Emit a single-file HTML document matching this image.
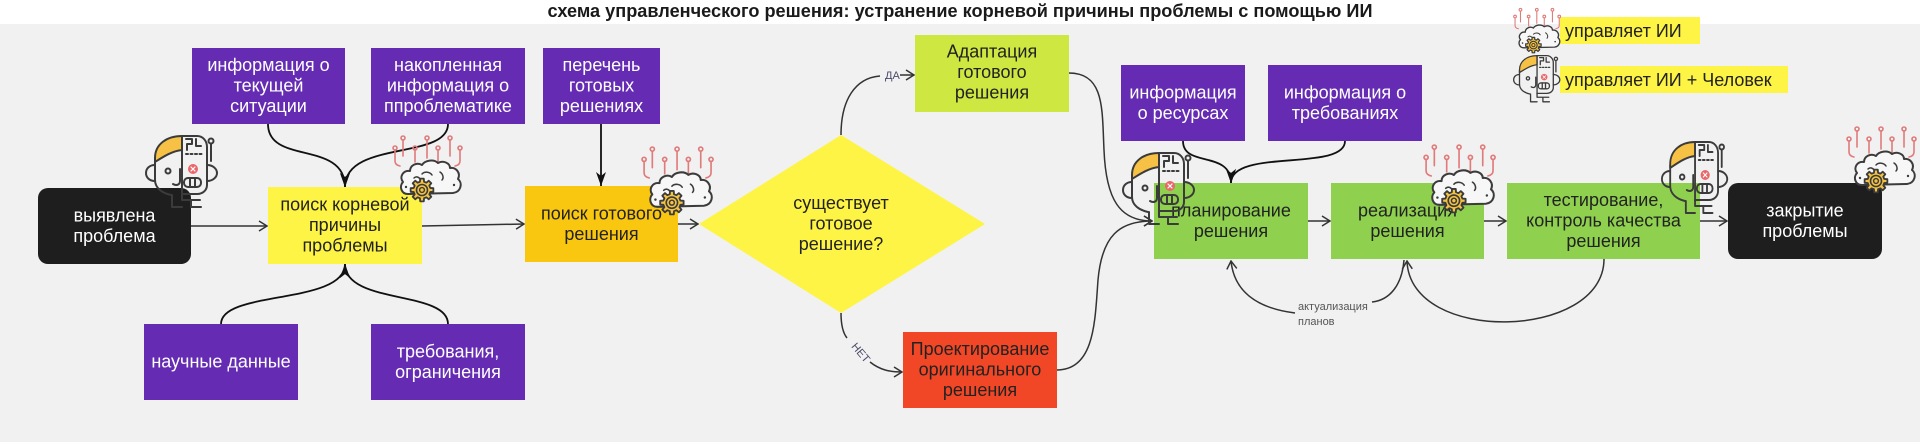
<!DOCTYPE html>
<html><head><meta charset="utf-8">
<style>
html,body{margin:0;padding:0;background:#fff;}
body{width:1920px;height:442px;overflow:hidden;}
svg{display:block;}
text{font-family:"Liberation Sans","Noto Sans CJK SC",sans-serif;}
.t{font-size:18px;text-anchor:middle;fill:#222;}
.w{fill:#fff;}
.ln{fill:none;stroke:#333;stroke-width:1.5;}
.lb{fill:none;stroke:#111;stroke-width:1.8;}
</style></head>
<body>
<svg width="1920" height="442" viewBox="0 0 1920 442" xmlns="http://www.w3.org/2000/svg">
<defs>
  <marker id="oa" viewBox="0 0 10 12" refX="9" refY="6" markerWidth="10" markerHeight="12" markerUnits="userSpaceOnUse" orient="auto">
    <path d="M1,1 L9,6 L1,11" fill="none" stroke="#333" stroke-width="1.5"/>
  </marker>
  <marker id="fa" viewBox="0 0 14 10" refX="14" refY="5" markerWidth="14" markerHeight="10" markerUnits="userSpaceOnUse" orient="auto">
    <path d="M0,0 L14,5 L0,10 L4,5 Z" fill="#111"/>
  </marker>
  <g id="hum" fill="none" stroke="#3b3b3b" stroke-width="2" stroke-linecap="round" stroke-linejoin="round">
    <path d="M37,1 C22,1 10,9 10,23 L10,27 C18,22 27,16 37,15 Z" fill="#f6c144"/>
    <path d="M10,24 L10,45 C10,53 17,58 26,60"/>
    <path d="M10,30 C4,30 1,34 1,38 C1,42 4,46 10,46"/>
    <circle cx="23" cy="36" r="2.5"/>
    <path d="M35,34 L35,46 C35,50 31,51 28,49"/>
    <path d="M37,1 L37,60"/>
    <path d="M37,1 L52,1 C58,1 62,6 62,12 L62,50 C62,55 58,59 52,59 L37,59"/>
    <path d="M41,4 H47 V9 H42 V15 M51,4 V11 H56"/>
    <path d="M41,19 H58" stroke-dasharray="2 2.5"/>
    <circle cx="48" cy="34" r="5" fill="#e8676b" stroke="none"/>
    <path d="M46,32 L50,36 M50,32 L46,36" stroke="#fff" stroke-width="1.2"/>
    <rect x="39" y="43" width="17" height="9" rx="4"/>
    <path d="M45,43 V52 M50,43 V52"/>
    <path d="M62,30 C68,30 72,34 72,38 C72,42 68,46 62,46"/>
    <path d="M66,26 V9"/>
    <circle cx="66" cy="6" r="2.5"/>
    <path d="M27,60 V72 H37 M37,59 V65 H55 M46,65 V72 H56"/>
  </g>
  <g id="brn">
    <g fill="none" stroke="#e07b7b" stroke-width="1.6" stroke-linecap="round">
      <circle cx="11" cy="4" r="2"/><circle cx="35" cy="4" r="2"/><circle cx="58" cy="4" r="2"/>
      <circle cx="3" cy="14" r="2"/><circle cx="23" cy="14" r="2"/><circle cx="46" cy="14" r="2"/><circle cx="68" cy="14" r="2"/>
      <path d="M11,6 V22 M35,6 V24 M58,6 V22 M3,16 V27 Q3,31 8,32 M23,16 V28 M46,16 V28 M68,16 V27 Q68,31 63,32"/>
    </g>
    <path d="M16,60 C9,60 7,52 11,48 C7,43 11,36 18,37 C18,31 25,28 30,31 C33,26 42,25 46,29 C51,26 58,29 58,34 C64,33 69,39 66,45 C71,49 69,58 61,59 Z" fill="#f7f7f7" stroke="#3b3b3b" stroke-width="2" stroke-linejoin="round"/>
    <path d="M30,40 C33,37 38,38 40,41 M48,38 C51,40 52,44 50,46 M22,44 C24,42 27,43 28,45" fill="none" stroke="#3b3b3b" stroke-width="1.5" stroke-linecap="round"/>
    <circle cx="14" cy="53" r="1.2" fill="#3b3b3b"/><circle cx="62" cy="51" r="1.2" fill="#3b3b3b"/>
    <g transform="translate(30,56)">
      <polygon points="8.25,-2.06 11.36,-1.8 11.36,1.8 8.25,2.06 7.29,4.38 9.3,6.76 6.76,9.3 4.38,7.29 2.06,8.25 1.8,11.36 -1.8,11.36 -2.06,8.25 -4.38,7.29 -6.76,9.3 -9.3,6.76 -7.29,4.38 -8.25,2.06 -11.36,1.8 -11.36,-1.8 -8.25,-2.06 -7.29,-4.38 -9.3,-6.76 -6.76,-9.3 -4.38,-7.29 -2.06,-8.25 -1.8,-11.36 1.8,-11.36 2.06,-8.25 4.38,-7.29 6.76,-9.3 9.3,-6.76 7.29,-4.38" fill="#f5c342" stroke="#3b3b3b" stroke-width="1.8" stroke-linejoin="round"/>
      <circle r="5.5" fill="none" stroke="#3b3b3b" stroke-width="1.6"/>
      <circle r="2.4" fill="none" stroke="#3b3b3b" stroke-width="1.4"/>
    </g>
  </g>
</defs>

<!-- background -->
<rect x="0" y="0" width="1920" height="442" fill="#ffffff"/>
<rect x="0" y="24" width="1920" height="418" fill="#f1f1f1"/>

<!-- title -->
<text x="960" y="17" font-size="18" font-weight="bold" text-anchor="middle" fill="#1a1a1a" textLength="825" lengthAdjust="spacingAndGlyphs">схема управленческого решения: устранение корневой причины проблемы с помощью ИИ</text>

<!-- connectors -->
<path class="ln" d="M191,226 L267,226" marker-end="url(#oa)"/>
<path class="ln" d="M422,226 L524,224" marker-end="url(#oa)"/>
<path class="ln" d="M678,224 L698,224" marker-end="url(#oa)"/>
<path class="lb" d="M268,124 C268,165 345,140 345,187" marker-end="url(#fa)"/>
<path class="lb" d="M448,124 C448,160 345,140 345,187" marker-end="url(#fa)"/>
<path class="lb" d="M601,124 L601,186" marker-end="url(#fa)"/>
<path class="lb" d="M221,324 C221,290 345,305 345,264" marker-end="url(#fa)"/>
<path class="lb" d="M448,324 C448,290 345,305 345,264" marker-end="url(#fa)"/>
<path class="ln" d="M841,135 C841,100 855,78 880,76"/>
<path class="ln" d="M900,75 L914,75" marker-end="url(#oa)"/>
<path class="ln" d="M841,313 C841,325 843,333 847,338"/>
<path class="ln" d="M870,362 C880,370 890,372 902,372" marker-end="url(#oa)"/>
<path class="ln" d="M1069,73 C1105,73 1102,110 1104,150 C1106,200 1120,221 1152,221" marker-end="url(#oa)"/>
<path class="ln" d="M1057,370 C1095,370 1095,320 1098,280 C1102,235 1120,221 1152,221" marker-end="url(#oa)"/>
<path class="lb" d="M1183,141 C1183,168 1231,150 1231,183" marker-end="url(#fa)"/>
<path class="lb" d="M1345,141 C1345,172 1231,148 1231,183" marker-end="url(#fa)"/>
<path class="ln" d="M1308,221 L1330,221" marker-end="url(#oa)"/>
<path class="ln" d="M1484,221 L1506,221" marker-end="url(#oa)"/>
<path class="ln" d="M1700,221 L1727,221" marker-end="url(#oa)"/>
<path class="ln" d="M1404,260 C1402,285 1390,300 1372,302"/>
<path class="ln" d="M1295,313 C1255,308 1234,290 1231,261" marker-end="url(#oa)"/>
<path class="ln" d="M1604,259 C1604,340 1410,345 1407,261" marker-end="url(#oa)"/>

<!-- connector labels -->
<text x="885" y="79" font-size="11" fill="#4a4a6a">ДА</text>
<text x="0" y="0" font-size="11" fill="#4a4a6a" text-anchor="middle" transform="translate(858,355) rotate(50)">НЕТ</text>
<text x="1298" y="310" font-size="11" fill="#555">актуализация</text>
<text x="1298" y="325" font-size="11" fill="#555">планов</text>

<!-- boxes -->
<rect x="38" y="188" width="153" height="76" rx="10" fill="#1e1e1e"/>
<text class="t w" x="114.5"><tspan x="114.5" y="221.25">выявлена</tspan><tspan x="114.5" y="241.75">проблема</tspan></text>

<rect x="268" y="187" width="154" height="77" fill="#fef445"/>
<text class="t" x="345"><tspan x="345" y="210.5">поиск корневой</tspan><tspan x="345" y="231">причины</tspan><tspan x="345" y="251.5">проблемы</tspan></text>

<rect x="525" y="186" width="153" height="76" fill="#fac710"/>
<text class="t" x="601.5"><tspan x="601.5" y="219.25">поиск готового</tspan><tspan x="601.5" y="239.75">решения</tspan></text>

<rect x="192" y="48" width="153" height="76" fill="#652cb3"/>
<text class="t w" x="268.5"><tspan x="268.5" y="71">информация о</tspan><tspan x="268.5" y="91.5">текущей</tspan><tspan x="268.5" y="112">ситуации</tspan></text>

<rect x="371" y="48" width="154" height="76" fill="#652cb3"/>
<text class="t w" x="448"><tspan x="448" y="71">накопленная</tspan><tspan x="448" y="91.5">информация о</tspan><tspan x="448" y="112">ппроблематике</tspan></text>

<rect x="543" y="48" width="117" height="76" fill="#652cb3"/>
<text class="t w" x="601.5"><tspan x="601.5" y="71">перечень</tspan><tspan x="601.5" y="91.5">готовых</tspan><tspan x="601.5" y="112">решениях</tspan></text>

<rect x="144" y="324" width="154" height="76" fill="#652cb3"/>
<text class="t w" x="221" y="367.5">научные данные</text>

<rect x="371" y="324" width="154" height="76" fill="#652cb3"/>
<text class="t w" x="448"><tspan x="448" y="357.25">требования,</tspan><tspan x="448" y="377.75">ограничения</tspan></text>

<polygon points="699,224 841,135 985,224 841,313" fill="#fef445"/>
<text class="t" x="841"><tspan x="841" y="209">существует</tspan><tspan x="841" y="229.5">готовое</tspan><tspan x="841" y="250">решение?</tspan></text>

<rect x="915" y="35" width="154" height="77" fill="#cee741"/>
<text class="t" x="992"><tspan x="992" y="57.5">Адаптация</tspan><tspan x="992" y="78">готового</tspan><tspan x="992" y="98.5">решения</tspan></text>

<rect x="903" y="332" width="154" height="76" fill="#f24726"/>
<text class="t" x="980"><tspan x="980" y="355">Проектирование</tspan><tspan x="980" y="375.5">оригинального</tspan><tspan x="980" y="396">решения</tspan></text>

<rect x="1121" y="65" width="124" height="76" fill="#652cb3"/>
<text class="t w" x="1183"><tspan x="1183" y="98.25">информация</tspan><tspan x="1183" y="118.75">о ресурсах</tspan></text>

<rect x="1268" y="65" width="154" height="76" fill="#652cb3"/>
<text class="t w" x="1345"><tspan x="1345" y="98.25">информация о</tspan><tspan x="1345" y="118.75">требованиях</tspan></text>

<rect x="1154" y="183" width="154" height="76" fill="#8fd14f"/>
<text class="t" x="1231"><tspan x="1231" y="216.25">планирование</tspan><tspan x="1231" y="236.75">решения</tspan></text>

<rect x="1331" y="183" width="153" height="76" fill="#8fd14f"/>
<text class="t" x="1407.5"><tspan x="1407.5" y="216.25">реализация</tspan><tspan x="1407.5" y="236.75">решения</tspan></text>

<rect x="1507" y="183" width="193" height="76" fill="#8fd14f"/>
<text class="t" x="1603.5"><tspan x="1603.5" y="206">тестирование,</tspan><tspan x="1603.5" y="226.5">контроль качества</tspan><tspan x="1603.5" y="247">решения</tspan></text>

<rect x="1728" y="183" width="154" height="76" rx="10" fill="#1e1e1e"/>
<text class="t w" x="1805"><tspan x="1805" y="216.25">закрытие</tspan><tspan x="1805" y="236.75">проблемы</tspan></text>

<!-- legend -->
<rect x="1560" y="17" width="140" height="27" fill="#fef445"/>
<text x="1565" y="37" font-size="18" fill="#222">управляет ИИ</text>
<rect x="1560" y="66" width="228" height="27" fill="#fef445"/>
<text x="1565" y="86" font-size="18" fill="#222">управляет ИИ + Человек</text>
<use href="#brn" transform="translate(1513,7) scale(0.68)"/>
<use href="#hum" transform="translate(1513,55) scale(0.65)"/>

<!-- icons -->
<use href="#hum" transform="translate(145,135)"/>
<use href="#brn" transform="translate(392,134)"/>
<use href="#brn" transform="translate(641,145) scale(1.03)"/>
<use href="#hum" transform="translate(1122,152)"/>
<use href="#brn" transform="translate(1423,143) scale(1.03)"/>
<use href="#hum" transform="translate(1661,141) scale(0.92,1)"/>
<use href="#brn" transform="translate(1846,125)"/>
</svg>
</body></html>
